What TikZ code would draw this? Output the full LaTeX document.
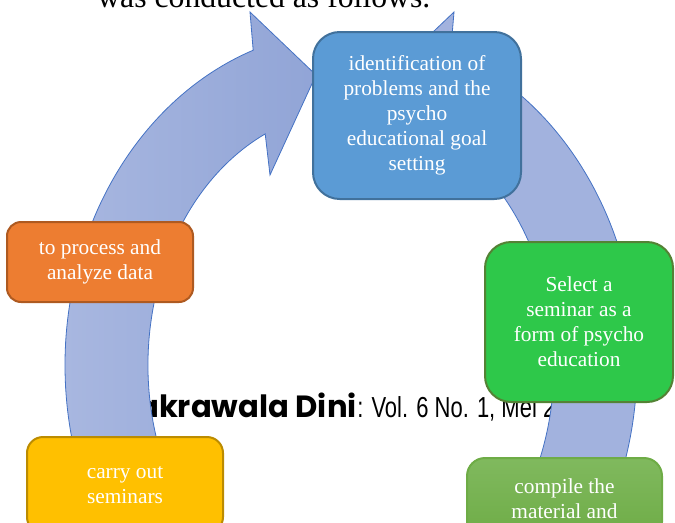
\documentclass[tikz,border=0pt]{standalone}
\usepackage{fontspec}
\setmainfont{Liberation Serif}
\newfontfamily\journalfont{Poppins}
\newfontfamily\volfont{Liberation Sans}
\definecolor{boxblue}{RGB}{91,155,213}
\definecolor{boxblueline}{RGB}{65,113,156}
\definecolor{boxgreen}{RGB}{46,200,74}
\definecolor{boxgreenline}{RGB}{84,130,53}
\definecolor{boxorange}{RGB}{237,125,49}
\definecolor{boxorangeline}{RGB}{174,90,33}
\definecolor{boxyellow}{RGB}{255,192,0}
\definecolor{boxyellowline}{RGB}{188,140,0}
\definecolor{boxlimetop}{RGB}{128,185,94}
\definecolor{boxlimebot}{RGB}{110,172,70}
\definecolor{ringlight}{RGB}{168,183,224}
\definecolor{ringdark}{RGB}{142,162,213}
\definecolor{ringfill}{RGB}{162,178,222}
\definecolor{ringline}{RGB}{68,114,196}
\usetikzlibrary{positioning}

\begin{document}
\begin{tikzpicture}[x=0.75pt, y=-0.75pt,
    stage/.style = {draw, line width=1.5pt, rounded corners=#1, text=white, align=center,
      inner sep=0pt, font=\fontsize{16pt}{18.75pt}\selectfont},
    ring/.style = {draw=ringline, line width=0.6pt}]
  \useasboundingbox (0,0) rectangle (675,522);
  \clip (0,0) rectangle (675,522);

  \node[anchor=base west, inner sep=0pt, font=\fontsize{23.8pt}{24pt}\selectfont] (intro) at (97,7) {was conducted as follows.};
  \node[anchor=base east, inner sep=0pt, font=\journalfont\bfseries\fontsize{23pt}{24pt}\selectfont] (journal) at (357,417) {Cakrawala Dini};
  \node[anchor=base west, inner sep=0pt, font=\volfont\fontsize{21.7pt}{22pt}\selectfont] (volume) at (journal.base east) {\scalebox{0.76}[1]{: Vol. 6 No. 1, Mei 20}};

  \path[ring, left color=ringlight, right color=ringdark]
    (351,700) arc[start angle=90, end angle=250, x radius=286, y radius=335]
    -- (250,12) -- (316,75) -- (270,175) -- (265.2,133.9)
    arc[start angle=245, end angle=90, x radius=203, y radius=255] -- cycle;
  \path[ring, fill=ringfill]
    (425.0,41.4) arc[start angle=-75, end angle=90, x radius=286, y radius=335]
    -- (351,620) arc[start angle=90, end angle=-75, x radius=203, y radius=255] -- cycle;
  \path[ring, fill=ringfill] (454,12) -- (450,60) -- (412,52) -- cycle;

  \node[stage=20pt, fill=boxblue, draw=boxblueline, minimum width=156pt, minimum height=125.25pt]
    (ident) at (417,115.5) {identification of\\problems and the\\psycho\\educational goal\\setting};
  \node[stage=19.5pt, fill=boxgreen, draw=boxgreenline, minimum width=141pt, minimum height=120pt]
    (select) at (579,322) {Select a\\seminar as a\\form of psycho\\education};
  \node[stage=13.5pt, draw=boxlimebot, top color=boxlimetop, bottom color=boxlimebot,
    minimum width=146.25pt, minimum height=61.5pt]
    (compile) at (564.5,499) {compile the\\material and};
  \node[stage=12pt, fill=boxyellow, draw=boxyellowline, minimum width=147pt, minimum height=72pt]
    (carry) at (125,485) {carry out\\seminars};
  \node[stage=10.5pt, fill=boxorange, draw=boxorangeline, minimum width=139.5pt, minimum height=60pt]
    (analyze) at (100,262) {to process and\\analyze data};
\end{tikzpicture}
\end{document}
